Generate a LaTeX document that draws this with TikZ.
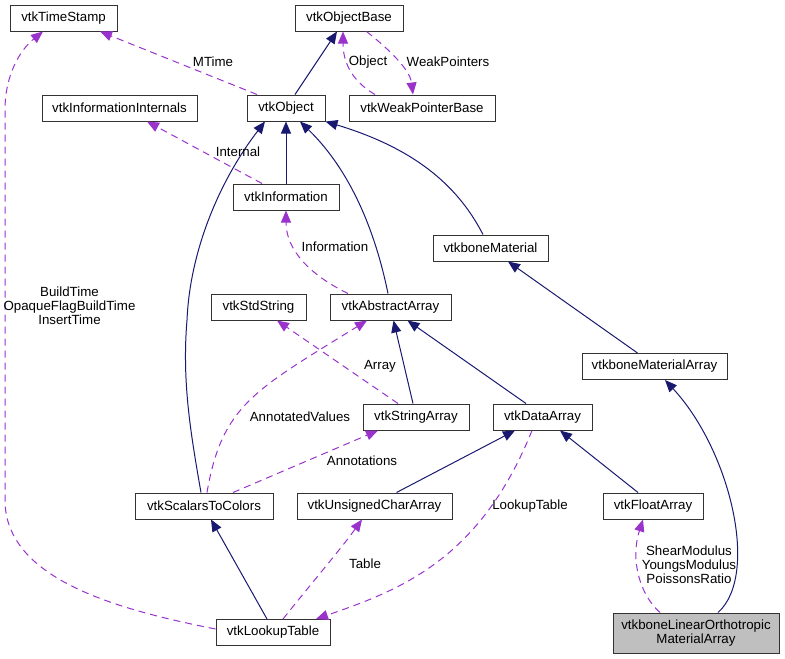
\documentclass[tikz,border=0pt]{standalone}
\usepackage{fontspec}
\setmainfont{Liberation Sans}
\usetikzlibrary{arrows.meta}
\definecolor{dox_navy}{rgb} {0.10,0.10,0.44}
\definecolor{dox_purple}{rgb} {0.60,0.20,0.80}
\definecolor{dox_grey}{rgb} {0.75,0.75,0.75}

\begin{document}
\begin{tikzpicture}[x=1pt,y=-1pt,
    every node/.style={font=\fontsize{13.3}{14}\selectfont},
    cls/.style={draw=black!80,line width=1pt,fill=white,
      minimum height=26pt,inner sep=0pt},
    inherit/.style={draw=dox_navy,line width=1pt,
      -{Triangle[length=12pt,width=10pt]}},
    uses/.style={draw=dox_purple,line width=1pt,dash pattern=on 7pt off 5pt,
      -{Triangle[length=12pt,width=10pt]}},
    lbl/.style={inner sep=0pt,align=center},
  ]
  \useasboundingbox (0,0) rectangle (785,659);

  % classes
  \node[cls,minimum width=107pt] (ts)   at (63.5,18)  {vtkTimeStamp};
  \node[cls,minimum width=108pt] (ob)   at (349,18)   {vtkObjectBase};
  \node[cls,minimum width=155pt] (ii)   at (119.5,108) {vtkInformationInternals};
  \node[cls,minimum width=78pt]  (obj)  at (286,108)  {vtkObject};
  \node[cls,minimum width=146pt] (wpb)  at (422,108)  {vtkWeakPointerBase};
  \node[cls,minimum width=106pt] (info) at (286,197)  {vtkInformation};
  \node[cls,minimum width=115pt] (bm)   at (490.5,248) {vtkboneMaterial};
  \node[cls,minimum width=95pt]  (ss)   at (258.5,307) {vtkStdString};
  \node[cls,minimum width=121pt] (aa)   at (390.5,307) {vtkAbstractArray};
  \node[cls,minimum width=145pt] (bma)  at (654.5,366.5) {vtkboneMaterialArray};
  \node[cls,minimum width=106pt] (sa)   at (416,417)  {vtkStringArray};
  \node[cls,minimum width=99pt]  (da)   at (542.5,417) {vtkDataArray};
  \node[cls,minimum width=138pt] (stc)  at (204,506)  {vtkScalarsToColors};
  \node[cls,minimum width=155pt] (uca)  at (374.5,506) {vtkUnsignedCharArray};
  \node[cls,minimum width=100pt] (fa)   at (653,506)  {vtkFloatArray};
  \node[cls,minimum width=114pt] (lut)  at (273,632.5) {vtkLookupTable};
  \node[cls,minimum width=166pt,minimum height=40pt,fill=dox_grey,align=center]
    (bloma) at (696,633) {vtkboneLinearOrthotropic\\MaterialArray};

  % inheritance
  \draw[inherit] ([xshift=9pt]obj.north) -- ([xshift=-12pt]ob.south);
  \draw[inherit] (info.north) -- (obj.south);
  \draw[inherit] ([xshift=-3pt]stc.north) .. controls (190,430) and (182,380) .. (187,320)
    .. controls (190,250) and (220,180) .. ([xshift=-21pt]obj.south);
  \draw[inherit] ([xshift=-2.5pt]aa.north) .. controls (375,230) and (350,170) .. ([xshift=14pt]obj.south);
  \draw[inherit] ([xshift=-7.5pt]bm.north) .. controls (460,190) and (420,150) .. (obj.south east);
  \draw[inherit] ([xshift=-17pt]bma.north) -- ([xshift=17.5pt]bm.south);
  \draw[inherit] ([xshift=-3pt]sa.north) -- ([xshift=3pt]aa.south);
  \draw[inherit] ([xshift=-16.5pt]da.north) -- ([xshift=17pt]aa.south);
  \draw[inherit] ([xshift=22pt]uca.north) -- ([xshift=-27.5pt]da.south);
  \draw[inherit] ([xshift=-15pt]fa.north) -- ([xshift=17.5pt]da.south);
  \draw[inherit] ([xshift=-6pt]lut.north) -- ([xshift=7pt]stc.south);
  \draw[inherit] ([xshift=22pt]bloma.north) .. controls (760,575) and (730,450) .. ([xshift=10.5pt]bma.south);

  % usage
  \draw[uses] ([xshift=-29pt]obj.north) -- ([xshift=36.5pt]ts.south);
  \draw[uses] ([xshift=-47pt]wpb.north) .. controls (350,80) and (343,60) .. ([xshift=-6pt]ob.south);
  \draw[uses] ([xshift=17.5pt]ob.south) .. controls (390,50) and (410,70) .. ([xshift=-9pt]wpb.north);
  \draw[uses] ([xshift=-24pt]info.north) -- ([xshift=27.5pt]ii.south);
  \draw[uses] ([xshift=-42.5pt]aa.north) .. controls (310,275) and (286,250) .. (info.south);
  \draw[uses] ([xshift=-18pt]sa.north) -- ([xshift=18.5pt]ss.south);
  \draw[uses] ([xshift=3pt]stc.north) .. controls (222,405) and (255,390) .. ([xshift=-23.5pt]aa.south);
  \draw[uses] ([xshift=29pt]stc.north) -- ([xshift=-38pt]sa.south);
  \draw[uses] ([yshift=3.5pt]lut.west) .. controls (120,610) and (5,580) .. (5,500) -- (5,110)
    .. controls (5,75) and (20,50) .. ([xshift=-20.5pt]ts.south);
  \draw[uses] ([xshift=10pt]lut.north) .. controls (310,585) and (340,550) .. ([xshift=-12.5pt]uca.south);
  \draw[uses] ([xshift=-10.5pt]da.south) .. controls (480,560) and (400,590) .. ([xshift=43pt]lut.north);
  \draw[uses] ([xshift=-36pt]bloma.north) .. controls (640,595) and (630,560) .. ([xshift=-10pt]fa.south);

  % edge labels
  \node[lbl] (l_mtime)  at (213,62)  {MTime};
  \node[lbl] (l_object) at (368,62)  {Object};
  \node[lbl] (l_weak)   at (448,62)  {WeakPointers};
  \node[lbl] (l_intern) at (238,152) {Internal};
  \node[lbl] (l_info)   at (335,247) {Information};
  \node[lbl] (l_array)  at (380,366) {Array};
  \node[lbl] (l_annval) at (300,417) {AnnotatedValues};
  \node[lbl] (l_annot)  at (362,461) {Annotations};
  \node[lbl] (l_build)  at (69.5,306) {BuildTime\\OpaqueFlagBuildTime\\InsertTime};
  \node[lbl] (l_table)  at (365,564) {Table};
  \node[lbl] (l_lookup) at (530,506) {LookupTable};
  \node[lbl] (l_moduli) at (689,565) {ShearModulus\\YoungsModulus\\PoissonsRatio};
\end{tikzpicture}
\end{document}
